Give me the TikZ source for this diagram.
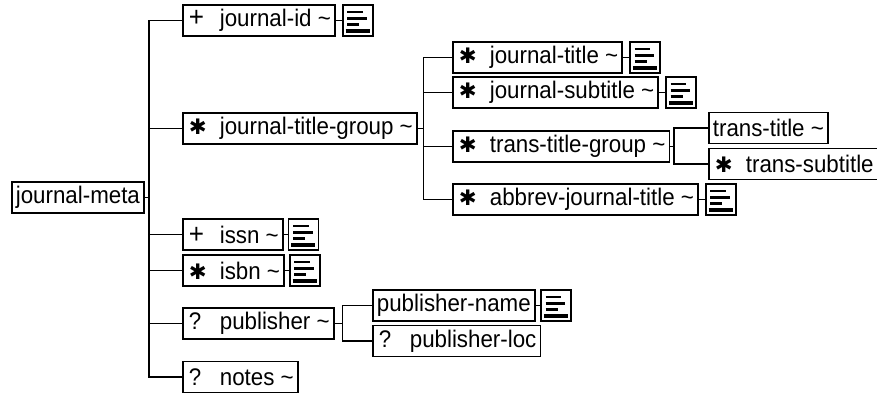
\documentclass[tikz,border=0pt]{standalone}
\usepackage{fontspec}
\setmainfont{Liberation Sans}[FakeStretch=0.93]
\newfontfamily\dingfont{DejaVu Sans}
\usetikzlibrary{positioning}
\newcommand{\elsym}[1]{\makebox[24.75pt][l]{\hspace{1.5pt}#1}}
\newcommand{\many}{{\dingfont\fontsize{16pt}{16pt}\selectfont ✱}}
\newcommand{\once}{{\fontsize{21pt}{21pt}\selectfont +}}
\newcommand{\tld}{\textasciitilde}
\tikzset{basic/.style={draw,line width=1.3pt,minimum height=23.25pt,inner xsep=3pt,inner ysep=0pt,font=\fontsize{18pt}{19pt}\selectfont}}
\tikzset{element/.style={basic,anchor=west}}
\tikzset{content/.style={draw,line width=1.3pt,minimum width=22.5pt,minimum height=23.25pt,inner sep=0pt,
    path picture={
        \draw[line width=2pt] ([shift={(3.4pt,-5.3pt)}]path picture bounding box.north west) -- ++(11.6pt,0);
        \draw[line width=2pt] ([shift={(3.4pt,-10pt)}]path picture bounding box.north west) -- ++(14.6pt,0);
        \draw[line width=2pt] ([shift={(3.4pt,-14.8pt)}]path picture bounding box.north west) -- ++(9pt,0);
        \draw[line width=3pt] ([shift={(2.2pt,-19.6pt)}]path picture bounding box.north west) -- ++(18pt,0);
    }}}
\tikzset{link/.style={line width=1.2pt}}

\begin{document}
\begin{tikzpicture}[x=0.75pt,y=-0.75pt]
        \path[use as bounding box] (0,0) rectangle (877,393);
        \clip (0,0) rectangle (877,393);
        \node[element] (jm) at (11,197.5) {journal-meta};
        \node[element] (jid) at (182,20.5) {\elsym{\once}journal-id \tld};
        \node[content,right=4.5pt of jid] (djid) {};
            \path[draw,link] (jid) -- (djid);
            \path[draw,link] (jm.east) -- ++(3pt,0) |- (jid.west);
        \node[element] (jtg) at (182,128.5) {\elsym{\many}journal-title-group \tld};
            \path[draw,link] (jm.east) -- ++(3pt,0) |- (jtg.west);
        \node[element] (jt) at (452,57.5) {\elsym{\many}journal-title \tld};
        \node[content,right=4.5pt of jt] (djt) {};
            \path[draw,link] (jt) -- (djt);
            \path[draw,link] (jtg.east) -- ++(4.5pt,0) |- (jt.west);
        \node[element] (jst) at (452,92.5) {\elsym{\many}journal-subtitle \tld};
        \node[content,right=4.5pt of jst] (djst) {};
            \path[draw,link] (jst) -- (djst);
            \path[draw,link] (jtg.east) -- ++(4.5pt,0) |- (jst.west);
        \node[element] (ttg) at (452,146.5) {\elsym{\many}trans-title-group \tld};
            \path[draw,link] (jtg.east) -- ++(4.5pt,0) |- (ttg.west);
        \node[element] (tt) at (708,128) {trans-title \tld};
            \path[draw,link] (ttg.east) -- ++(3pt,0) |- (tt.west);
        \node[element,text width=140pt] (tst) at (708,164) {\elsym{\many}trans-subtitle};
            \path[draw,link] (ttg.east) -- ++(3pt,0) |- (tst.west);
        \node[element] (ajt) at (452,199.5) {\elsym{\many}abbrev-journal-title \tld};
        \node[content,right=4.5pt of ajt] (dajt) {};
            \path[draw,link] (ajt) -- (dajt);
            \path[draw,link] (jtg.east) -- ++(4.5pt,0) |- (ajt.west);
        \node[element] (issn) at (182,234.5) {\elsym{\once}issn \tld};
        \node[content,right=3pt of issn] (dissn) {};
            \path[draw,link] (issn) -- (dissn);
            \path[draw,link] (jm.east) -- ++(3pt,0) |- (issn.west);
        \node[element] (isbn) at (182,270.5) {\elsym{\many}isbn \tld};
        \node[content,right=3pt of isbn] (disbn) {};
            \path[draw,link] (isbn) -- (disbn);
            \path[draw,link] (jm.east) -- ++(3pt,0) |- (isbn.west);
        \node[element] (pub) at (182,323.5) {\elsym{?}publisher \tld};
            \path[draw,link] (jm.east) -- ++(3pt,0) |- (pub.west);
        \node[element] (pn) at (372,305.5) {publisher-name};
        \node[content,right=3.5pt of pn] (dpn) {};
            \path[draw,link] (pn) -- (dpn);
            \path[draw,link] (pub.east) -- ++(6pt,0) |- (pn.west);
        \node[element] (pl) at (372,341) {\elsym{?}publisher-loc};
            \path[draw,link] (pub.east) -- ++(6pt,0) |- (pl.west);
        \node[element] (notes) at (182,377) {\elsym{?}notes \tld};
            \path[draw,link] (jm.east) -- ++(3pt,0) |- (notes.west);
    \end{tikzpicture}
\end{document}
